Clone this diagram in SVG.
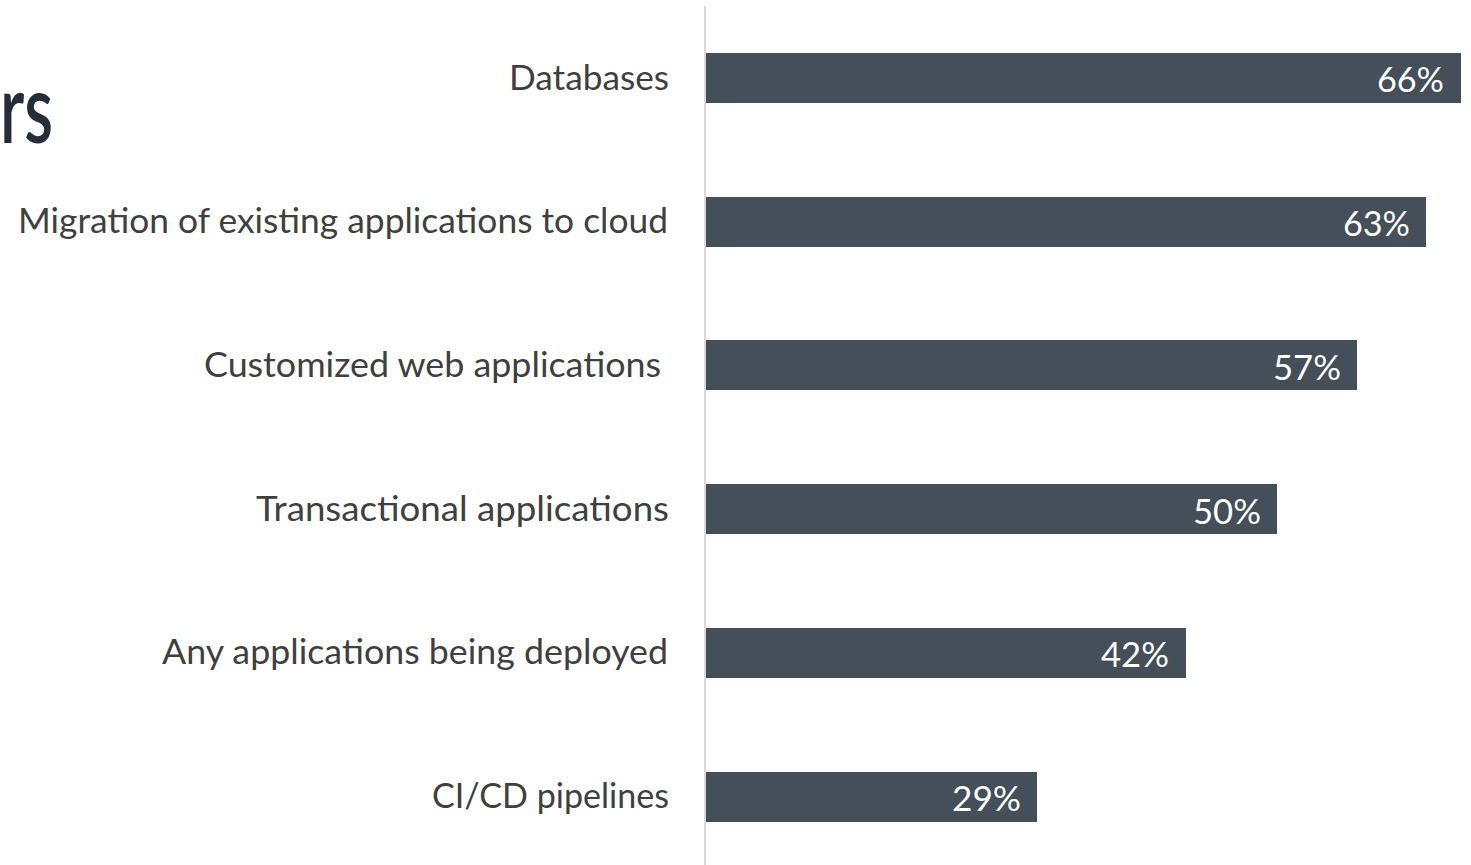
<svg xmlns="http://www.w3.org/2000/svg" width="1471" height="865" viewBox="0 0 1471 865">
  <style>
    .bar { fill: #444f5a; }
    .cat { font-family: Lato, "Noto Sans", "Liberation Sans", sans-serif; font-size: 34px; fill: #3f3f3f; text-anchor: end; }
    .pct { font-family: Lato, "Noto Sans", "Liberation Sans", sans-serif; font-size: 34px; fill: #ffffff; text-anchor: end; }
    .title { font-family: Lato, "Noto Sans", "Liberation Sans", sans-serif; font-size: 96px; font-weight: 600; fill: #262d3a; }
  </style>
  <rect width="1471" height="865" fill="#ffffff"/>

  <!-- heading fragment at the left edge -->
  <text class="title" x="0" y="143" textLength="53" lengthAdjust="spacingAndGlyphs">rs</text>

  <!-- value axis -->
  <g id="axis">
    <line x1="705" y1="6" x2="705" y2="865" stroke="#d9d9d9" stroke-width="2"/>
  </g>

  <g id="bar-databases">
    <rect class="bar" x="706" y="53" width="755" height="50"/>
    <text class="cat" x="669" y="90" textLength="160" lengthAdjust="spacingAndGlyphs">Databases</text>
    <text class="pct" x="1444" y="92" textLength="67" lengthAdjust="spacingAndGlyphs">66%</text>
  </g>

  <g id="bar-migration">
    <rect class="bar" x="706" y="197" width="720" height="50"/>
    <text class="cat" x="668" y="233" textLength="650" lengthAdjust="spacingAndGlyphs">Migration of existing applications to cloud</text>
    <text class="pct" x="1410" y="236" textLength="67" lengthAdjust="spacingAndGlyphs">63%</text>
  </g>

  <g id="bar-web">
    <rect class="bar" x="706" y="340" width="651" height="50"/>
    <text class="cat" x="661" y="377" textLength="457" lengthAdjust="spacingAndGlyphs">Customized web applications</text>
    <text class="pct" x="1341" y="380" textLength="68" lengthAdjust="spacingAndGlyphs">57%</text>
  </g>

  <g id="bar-transactional">
    <rect class="bar" x="706" y="484" width="571" height="50"/>
    <text class="cat" x="669" y="521" textLength="413" lengthAdjust="spacingAndGlyphs">Transactional applications</text>
    <text class="pct" x="1261" y="524" textLength="68" lengthAdjust="spacingAndGlyphs">50%</text>
  </g>

  <g id="bar-any">
    <rect class="bar" x="706" y="628" width="480" height="50"/>
    <text class="cat" x="668" y="664" textLength="506" lengthAdjust="spacingAndGlyphs">Any applications being deployed</text>
    <text class="pct" x="1169" y="667" textLength="68" lengthAdjust="spacingAndGlyphs">42%</text>
  </g>

  <g id="bar-cicd">
    <rect class="bar" x="706" y="772" width="331" height="50"/>
    <text class="cat" x="669" y="808" textLength="237" lengthAdjust="spacingAndGlyphs">CI/CD pipelines</text>
    <text class="pct" x="1021" y="811" textLength="69" lengthAdjust="spacingAndGlyphs">29%</text>
  </g>

  <g id="connectors"/>
</svg>
